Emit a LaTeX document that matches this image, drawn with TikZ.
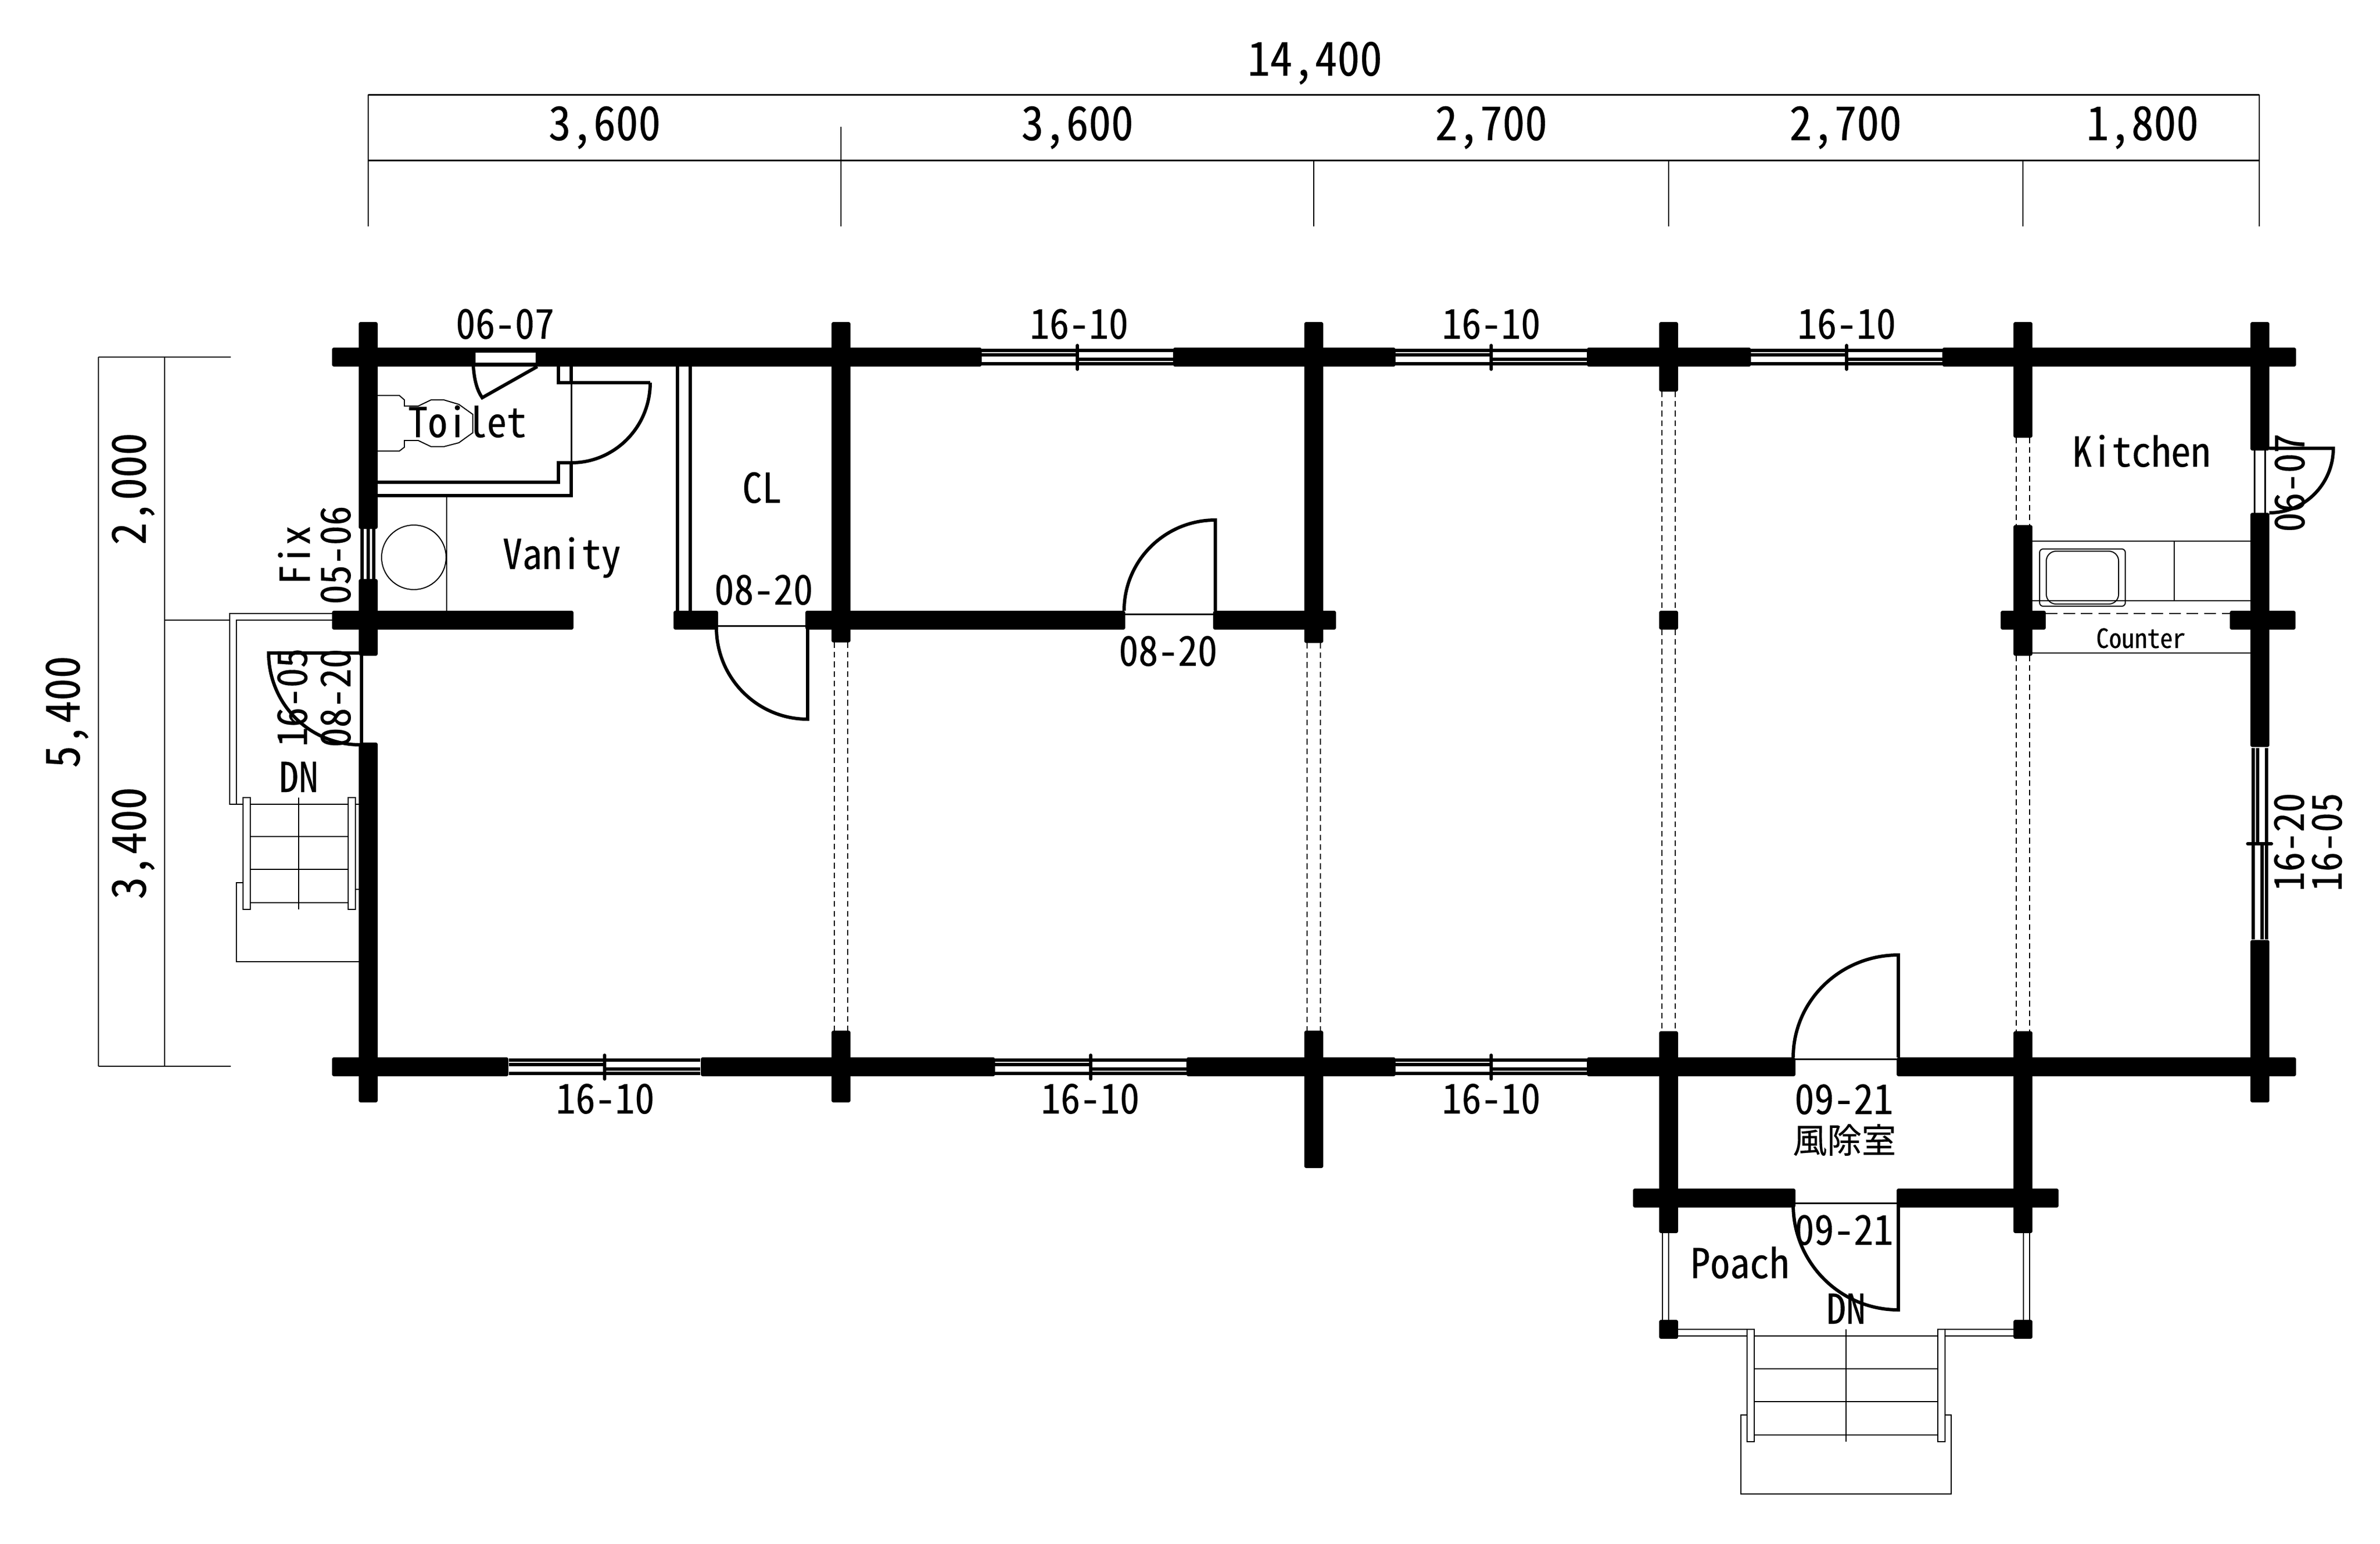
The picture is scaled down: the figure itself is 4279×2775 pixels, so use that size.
\documentclass[tikz,border=0pt]{standalone}
\usepackage{fontspec}
\newfontfamily\cadfont[RawFeature=+hwid,FakeStretch=0.96,FakeBold=0.25]{Noto Sans CJK JP}
\newfontfamily\cadwide[FakeBold=0.25]{Noto Sans CJK JP}
\tikzset{
  wall/.style={fill=black,draw=none,rounded corners=0.9pt},
  thinline/.style={draw=black,line width=0.55pt},
  dimline/.style={draw=black,line width=0.85pt},
  leaf/.style={draw=black,line width=1.7pt},
  partition/.style={draw=black,line width=1.9pt},
  glass/.style={draw=black,line width=1.6pt},
  hidden/.style={draw=black,line width=0.55pt,dash pattern=on 2.9pt off 2pt},
  dimtext/.style={anchor=base,inner sep=0pt,font=\cadfont\fontsize{23.9}{28}\selectfont},
  tagtext/.style={anchor=base,inner sep=0pt,font=\cadfont\fontsize{21}{24}\selectfont},
}
% window with two sliding sashes, laid along x or y
\newcommand{\winh}[2]{
  \draw[glass] (#1-172,#2-12) -- (#1+172,#2-12);
  \draw[glass] (#1-172,#2+12) -- (#1+172,#2+12);
  \draw[glass] (#1-172,#2-4) -- (#1,#2-4);
  \draw[glass] (#1,#2+4) -- (#1+172,#2+4);
  \draw[glass,line cap=round] (#1,#2-21) -- (#1,#2+22);
}
\begin{document}
\begin{tikzpicture}[x=0.01cm,y=-0.01cm]
  \useasboundingbox (0,0) rectangle (4279,2775);

  % dimension lines, top
  \draw[dimline] (662,170) -- (4062,170);
  \draw[dimline] (662,288) -- (4062,288);
  \draw[thinline] (662,170) -- (662,407);
  \draw[thinline] (1512,228) -- (1512,407);
  \draw[thinline] (2362,288) -- (2362,407);
  \draw[thinline] (3000,288) -- (3000,407);
  \draw[thinline] (3637,288) -- (3637,407);
  \draw[thinline] (4062,170) -- (4062,407);
  % dimension lines, left
  \draw[dimline] (177,642) -- (177,1917);
  \draw[dimline] (296,642) -- (296,1917);
  \draw[thinline] (177,642) -- (415,642);
  \draw[thinline] (177,1917) -- (415,1917);
  \draw[thinline] (296,1115) -- (413,1115);

  % hidden beams
  \foreach \bx/\ya/\yb in {1512/1155/1853,2362/1156/1853,3000/704/1098,3000/1132/1854,3637/787/944,3637/1179/1854}{
    \draw[hidden] (\bx-12,\ya) -- (\bx-12,\yb);
    \draw[hidden] (\bx+12,\ya) -- (\bx+12,\yb);
  }

  % log walls, horizontal
  \foreach \xa/\xb in {597/1765,2109/2509,2853/3148,3492/4128}
    \draw[wall] (\xa,625) rectangle (\xb,659);
  \foreach \xa/\xb in {597/1031,1211/1291,1448/2023,2181/2402,3597/3678,4009/4127}
    \draw[wall] (\xa,1098) rectangle (\xb,1132);
  \foreach \xa/\xb in {597/914,1260/1789,2133/2509,2853/3228,3410/4128}
    \draw[wall] (\xa,1901) rectangle (\xb,1935);
  \foreach \xa/\xb in {2936/3228,3410/3701}
    \draw[wall] (\xa,2137) rectangle (\xb,2171);
  % log walls, vertical
  \foreach \wx/\ya/\yb in {662/579/951,662/1041/1179,662/1335/1982,1512/579/1155,1512/1853/1982,2362/579/1156,2362/1853/2100,
    3000/579/704,3000/1098/1132,3000/1854/2217,3000/2373/2407,3637/579/787,3637/944/1179,3637/1854/2217,3637/2373/2407,
    4063/579/810,4063/922/1343,4063/1690/1982}
    \draw[wall] (\wx-17,\ya) rectangle (\wx+17,\yb);

  % windows
  \winh{1937}{642}
  \winh{2681}{642}
  \winh{3320}{642}
  \winh{1087}{1918}
  \winh{1961}{1918}
  \winh{2681}{1918}
  \begin{scope}[shift={(4063,1517)},rotate=90,yscale=-1]
    \winh{0}{0}
  \end{scope}
  % fix window
  \foreach \gx in {651,662,672}
    \draw[glass] (\gx,951) -- (\gx,1041);

  % toilet
  \fill[white] (855,634) rectangle (963,652);
  \draw[leaf] (851,659) .. controls (853,685) and (858,702) .. (867,715) -- (966,659);
  \draw[partition] (678,891) -- (1027,891) -- (1027,832);
  \draw[partition] (678,867) -- (1004,867) -- (1004,832) -- (1027,832);
  \draw[partition] (1027,659) -- (1027,688);
  \draw[partition] (1004,659) -- (1004,688) -- (1169,688);
  \draw[dimline] (1027,688) -- (1027,832);
  \draw[leaf] (1169,688) arc[start angle=0,end angle=90,x radius=142,y radius=144];
  \draw[thinline] (678,711) -- (718,711) -- (727,719) -- (727,730) -- (752,730) -- (775,719) -- (798,719) -- (825,727) -- (850,745)
    -- (850,778) -- (825,796) -- (798,803) -- (775,803) -- (752,792) -- (727,792) -- (727,804) -- (718,811) -- (678,811);

  % closet
  \draw[partition] (1218,659) -- (1218,1098);
  \draw[partition] (1241,659) -- (1241,1098);
  \draw[dimline] (1291,1125) -- (1448,1125);
  \draw[leaf] (1452,1125) -- (1452,1293) arc[start angle=90,end angle=180,x radius=164,y radius=165];

  % room door
  \draw[dimline] (2023,1104) -- (2181,1104);
  \draw[leaf] (2021,1098) arc[start angle=180,end angle=270,x radius=164,y radius=163] -- (2185,1098);

  % vanity
  \draw[thinline] (803,891) -- (803,1098);
  \draw[thinline] (744,1002) circle[radius=58];

  % west door and deck
  \draw[leaf] (650,1179) -- (650,1335);
  \draw[leaf] (645,1174) -- (483,1174) arc[start angle=180,end angle=90,x radius=164,y radius=165];
  \draw[thinline] (597,1103) -- (413,1103) -- (413,1446) -- (437,1446);
  \draw[thinline] (597,1115) -- (425,1115) -- (425,1446);
  \draw[thinline] (437,1587) -- (425,1587) -- (425,1729) -- (645,1729);
  \draw[thinline] (639,1446) -- (645,1446);
  \draw[thinline] (639,1599) -- (645,1599);
  \draw[thinline] (437,1434) rectangle (450,1635);
  \draw[thinline] (626,1434) rectangle (639,1635);
  \foreach \ty in {1446,1504,1563,1623}
    \draw[thinline] (450,\ty) -- (626,\ty);
  \draw[thinline] (537,1434) -- (537,1635);

  % kitchen
  \draw[thinline] (3654,973) -- (4046,973);
  \draw[thinline] (3654,1080) -- (4046,1080);
  \draw[thinline] (3654,1174) -- (4046,1174);
  \draw[thinline] (3909,973) -- (3909,1080);
  \draw[thinline,dash pattern=on 6pt off 3pt] (3678,1103) -- (4009,1103);
  \draw[thinline,rounded corners=1.8pt] (3667,987) rectangle (3821,1090);
  \draw[thinline,rounded corners=5pt] (3679,991) rectangle (3809,1086);

  % east door
  \draw[dimline] (4053,810) -- (4053,922);
  \draw[dimline] (4072,810) -- (4072,922);
  \draw[leaf] (4080,806) -- (4195,806) arc[start angle=0,end angle=90,x radius=115,y radius=116];

  % entrance doors
  \draw[dimline] (3228,1904) -- (3410,1904);
  \draw[leaf] (3224,1901) arc[start angle=180,end angle=270,x radius=189,y radius=184] -- (3413,1901);
  \draw[dimline] (3228,2163) -- (3410,2163);
  \draw[leaf] (3413,2163) -- (3413,2355) arc[start angle=90,end angle=180,x radius=189,y radius=189];

  % porch and steps
  \foreach \rx in {2989,3000,3638,3649}
    \draw[thinline] (\rx,2217) -- (\rx,2373);
  \foreach \ry in {2390,2402}{
    \draw[thinline] (3017,\ry) -- (3141,\ry);
    \draw[thinline] (3497,\ry) -- (3620,\ry);
  }
  \draw[thinline] (3141,2390) rectangle (3154,2592);
  \draw[thinline] (3484,2390) rectangle (3497,2592);
  \foreach \ty in {2402,2461,2520,2580}
    \draw[thinline] (3154,\ty) -- (3484,\ty);
  \draw[thinline] (3319,2390) -- (3319,2592);
  \draw[thinline] (3141,2544) -- (3130,2544) -- (3130,2686) -- (3508,2686) -- (3508,2544) -- (3497,2544);

  % dimensions
  \node (dimAll) [dimtext] at (2364,136) {14,400};
  \node (dimA) [dimtext] at (1087,252) {3,600};
  \node (dimB) [dimtext] at (1937,252) {3,600};
  \node (dimC) [dimtext] at (2681,252) {2,700};
  \node (dimD) [dimtext] at (3318,252) {2,700};
  \node (dimE) [dimtext] at (3852,252) {1,800};
  \node (dimHigh) [dimtext,rotate=90] at (262,879) {2,000};
  \node (dimLow) [dimtext,rotate=90] at (262,1516) {3,400};
  \node (dimDepth) [dimtext,rotate=90] at (143,1280) {5,400};

  % openings
  \node (toiletWin) [tagtext] at (908,609) {06-07};
  \node (winTopA) [tagtext] at (1940,609) {16-10};
  \node (winTopB) [tagtext] at (2681,609) {16-10};
  \node (winTopC) [tagtext] at (3320,609) {16-10};
  \node (winLowA) [tagtext] at (1088,2002) {16-10};
  \node (winLowB) [tagtext] at (1960,2002) {16-10};
  \node (winLowC) [tagtext] at (2681,2002) {16-10};
  \node (doorCL) [tagtext] at (1373,1087) {08-20};
  \node (doorRoom) [tagtext] at (2100,1197) {08-20};
  \node (doorIn) [tagtext] at (3315,2003) {09-21};
  \node (doorOut) [tagtext] at (3315,2238) {09-21};
  \node (fixTag) [tagtext,rotate=90] at (557,998) {Fix};
  \node (fixSize) [tagtext,rotate=90] at (630,998) {05-06};
  \node (westWin) [tagtext,rotate=90] at (552,1254) {16-05};
  \node (westDoor) [tagtext,rotate=90] at (630,1255) {08-20};
  \node (eastDoor) [tagtext,rotate=90] at (4143,868) {06-07};
  \node (eastWinA) [tagtext,rotate=90] at (4142,1514) {16-20};
  \node (eastWinB) [tagtext,rotate=90] at (4210,1514) {16-05};

  % rooms
  \node (toilet) [tagtext] at (840,786) {Toilet};
  \node (vanity) [tagtext] at (1010,1023) {Vanity};
  \node (closet) [tagtext] at (1370,904) {CL};
  \node (kitchen) [tagtext] at (3850,839) {Kitchen};
  \node (counter) [anchor=base,inner sep=0pt,font=\cadfont\fontsize{13.6}{16}\selectfont] at (3849,1165) {Counter};
  \node (lobby) [anchor=base,inner sep=0pt,font=\cadwide\fontsize{17.6}{20}\selectfont] at (3316,2073) {風除室};
  \node (porch) [tagtext] at (3128,2298) {Poach};
  \node (dnWest) [tagtext] at (537,1424) {DN};
  \node (dnPorch) [tagtext] at (3319,2380) {DN};
\end{tikzpicture}
\end{document}
